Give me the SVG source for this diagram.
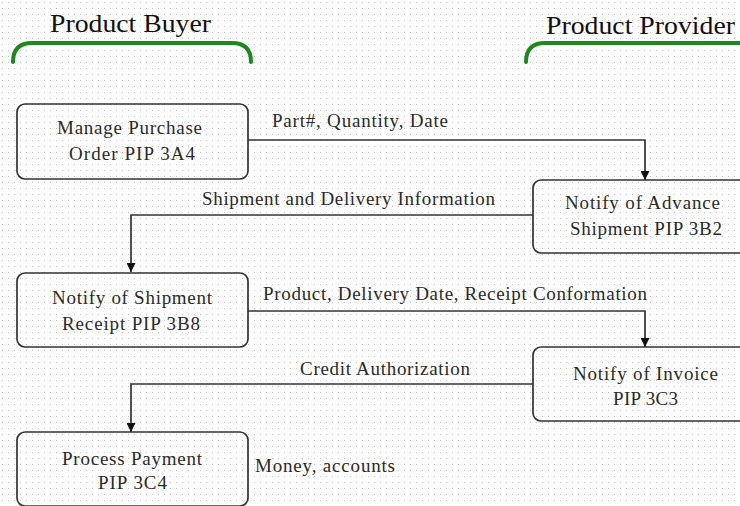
<svg xmlns="http://www.w3.org/2000/svg" width="740" height="506" viewBox="0 0 740 506">
<defs>
<pattern id="dots" width="6" height="6" patternUnits="userSpaceOnUse">
<rect x="2" y="2" width="1" height="1" fill="#c4c4c4"/>
</pattern>
<marker id="arr" viewBox="0 0 10 10" refX="10" refY="5" markerWidth="9" markerHeight="9" markerUnits="userSpaceOnUse" orient="auto">
<path d="M0,0 L10,5 L0,10 z" fill="#111"/>
</marker>
<style>
.box{fill:none;stroke:#333;stroke-width:1.7}
.t{font-family:"Liberation Serif","Times New Roman",serif;font-size:19px;fill:#2a2a2a}
.h{font-family:"Liberation Serif","Times New Roman",serif;font-size:25px;fill:#111}
.br{fill:none;stroke:#1a8a1a;stroke-width:4;stroke-linecap:round}
.c{fill:none;stroke:#333;stroke-width:1.7;marker-end:url(#arr)}
</style>
</defs>
<rect width="740" height="506" fill="#fff"/>
<rect width="740" height="506" fill="url(#dots)"/>

<g id="buyer-header">
<text class="h" x="50" y="32" textLength="161" lengthAdjust="spacingAndGlyphs">Product Buyer</text>
<path class="br" d="M13,62 Q13,43 32,43 L232,43 Q251,43 251,62"/>
</g>
<g id="provider-header">
<text class="h" x="546" y="34" textLength="189" lengthAdjust="spacingAndGlyphs">Product Provider</text>
<path class="br" d="M526,62 Q526,43 545,43 L742,43"/>
</g>

<g id="connectors">
<path class="c" d="M248,140 H645 V180"/>
<text class="t" x="272" y="127" textLength="176" lengthAdjust="spacing">Part#, Quantity, Date</text>
<path class="c" d="M533,215 H131 V272"/>
<text class="t" x="202" y="205" textLength="293" lengthAdjust="spacing">Shipment and Delivery Information</text>
<path class="c" d="M248,311 H645 V347"/>
<text class="t" x="263" y="300" textLength="384" lengthAdjust="spacing">Product, Delivery Date, Receipt Conformation</text>
<path class="c" d="M533,384 H131 V432"/>
<text class="t" x="300" y="375" textLength="170" lengthAdjust="spacing">Credit Authorization</text>
</g>

<g id="n1">
<rect class="box" x="17" y="104" width="231" height="75" rx="8"/>
<text class="t" x="57" y="134" textLength="145" lengthAdjust="spacing">Manage Purchase</text>
<text class="t" x="69" y="160" textLength="126" lengthAdjust="spacing">Order PIP 3A4</text>
</g>
<g id="n2">
<rect class="box" x="533" y="180" width="215" height="73" rx="8"/>
<text class="t" x="565" y="209" textLength="155" lengthAdjust="spacing">Notify of Advance</text>
<text class="t" x="570" y="235" textLength="152" lengthAdjust="spacing">Shipment PIP 3B2</text>
</g>
<g id="n3">
<rect class="box" x="17" y="273" width="231" height="74" rx="8"/>
<text class="t" x="52" y="304" textLength="160" lengthAdjust="spacing">Notify of Shipment</text>
<text class="t" x="62" y="330" textLength="138" lengthAdjust="spacing">Receipt PIP 3B8</text>
</g>
<g id="n4">
<rect class="box" x="533" y="347" width="215" height="74" rx="8"/>
<text class="t" x="573" y="380" textLength="145" lengthAdjust="spacing">Notify of Invoice</text>
<text class="t" x="613" y="405" textLength="65" lengthAdjust="spacing">PIP 3C3</text>
</g>
<g id="n5">
<rect class="box" x="17" y="432" width="231" height="74" rx="8"/>
<text class="t" x="62" y="465" textLength="140" lengthAdjust="spacing">Process Payment</text>
<text class="t" x="98" y="489" textLength="69" lengthAdjust="spacing">PIP 3C4</text>
<text class="t" x="255" y="472" textLength="140" lengthAdjust="spacing">Money, accounts</text>
</g>
</svg>
